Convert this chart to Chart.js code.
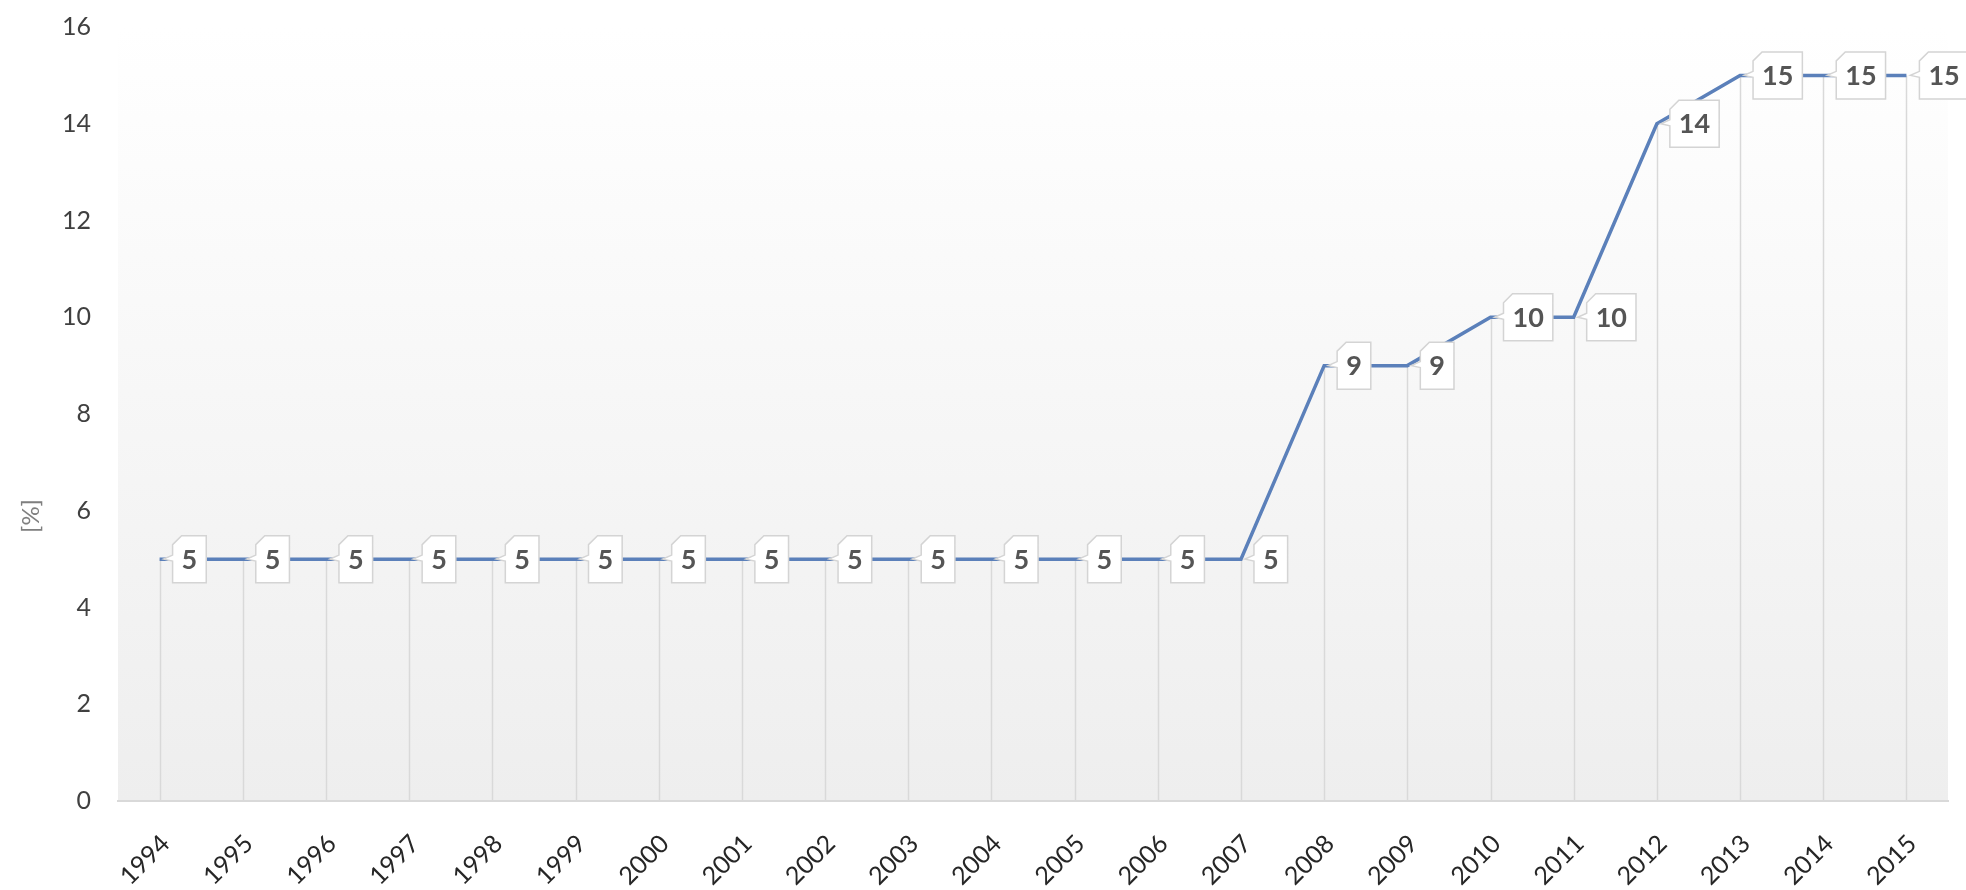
<!DOCTYPE html>
<html>
<head>
<meta charset="utf-8">
<script src="https://cdn.jsdelivr.net/npm/chart.js@4"></script>
<style>
  html, body { margin: 0; padding: 0; background: #fff; }
  #wrap { width: 1966px; height: 890px; }
</style>
</head>
<body>
<div id="wrap"><canvas id="myChart" width="1966" height="890"></canvas></div>
<script>
// data tahun dan persentase
const years = ['1994', '1995', '1996', '1997', '1998', '1999', '2000', '2001', '2002', '2003', '2004',
               '2005', '2006', '2007', '2008', '2009', '2010', '2011', '2012', '2013', '2014', '2015'];
const percent = [5, 5, 5, 5, 5, 5, 5, 5, 5, 5, 5, 5, 5, 5, 9, 9, 10, 10, 14, 15, 15, 15];
const yTicks = [0, 2, 4, 6, 8, 10, 12, 14, 16];
const yTitle = '[%]';

const FONT = 'Lato, "Open Sans", sans-serif';

// background gradient, garis drop dan label data
const bgPlugin = {
    id: 'bgPlugin',
    beforeDraw(chart) {
        const { ctx, chartArea: a } = chart;
        const g = ctx.createLinearGradient(0, a.top, 0, a.bottom);
        g.addColorStop(0, '#ffffff');
        g.addColorStop(1, '#eeeeee');
        ctx.save();
        ctx.fillStyle = g;
        ctx.fillRect(a.left, a.top, a.right - a.left, a.bottom - a.top);
        ctx.restore();
    },
    beforeDatasetsDraw(chart) {
        const { ctx, chartArea: a } = chart;
        const pts = chart.getDatasetMeta(0).data;
        ctx.save();
        ctx.strokeStyle = '#d9d9d9';
        ctx.lineWidth = 1.5;
        pts.forEach(p => {
            ctx.beginPath();
            ctx.moveTo(Math.round(p.x) + 0.5, p.y);
            ctx.lineTo(Math.round(p.x) + 0.5, a.bottom);
            ctx.stroke();
        });
        ctx.restore();
    },
    afterDatasetsDraw(chart) {
        const { ctx } = chart;
        const pts = chart.getDatasetMeta(0).data;
        ctx.save();
        ctx.font = 'bold 27px ' + FONT;
        pts.forEach((p, i) => {
            const txt = String(percent[i]);
            const w = ctx.measureText(txt).width + 18;
            const h = 47;
            const bx = p.x + 13;
            const by = p.y - h / 2;
            // bentuk callout
            ctx.beginPath();
            ctx.moveTo(bx + 9, by);
            ctx.lineTo(bx + w, by);
            ctx.lineTo(bx + w, by + h);
            ctx.lineTo(bx, by + h);
            ctx.lineTo(bx, p.y + 2);
            ctx.lineTo(p.x + 4, p.y);
            ctx.lineTo(bx, p.y - 4);
            ctx.lineTo(bx, by + 9);
            ctx.closePath();
            ctx.fillStyle = '#ffffff';
            ctx.fill();
            ctx.strokeStyle = '#d4d4d4';
            ctx.lineWidth = 1.5;
            ctx.stroke();
            ctx.fillStyle = '#555555';
            ctx.textAlign = 'center';
            ctx.textBaseline = 'middle';
            ctx.fillText(txt, bx + w / 2, p.y + 1);
        });
        // judul sumbu y
        ctx.translate(31, 516);
        ctx.rotate(-Math.PI / 2);
        ctx.font = '24px ' + FONT;
        ctx.fillStyle = '#7f7f7f';
        ctx.textAlign = 'center';
        ctx.textBaseline = 'middle';
        ctx.fillText(yTitle, 0, 0);
        ctx.restore();
    }
};

const ctx = document.getElementById('myChart').getContext('2d');
const myChart = new Chart(ctx, {
    type: 'line',
    data: {
        labels: years,
        datasets: [{
            label: yTitle,
            data: percent,
            borderColor: '#5b80ba',
            borderWidth: 3.5,
            pointRadius: 0,
            tension: 0,
            fill: false
        }]
    },
    options: {
        responsive: false,
        animation: false,
        layout: { padding: { left: 0, right: 18, top: 27, bottom: 0 }, autoPadding: false },
        plugins: {
            legend: { display: false },
            tooltip: { enabled: false }
        },
        scales: {
            x: {
                offset: true,
                grid: { display: false, drawTicks: false },
                border: { display: true, color: '#d9d9d9', width: 2 },
                ticks: {
                    autoSkip: false,
                    minRotation: 45,
                    maxRotation: 45,
                    padding: 28,
                    labelOffset: 6,
                    color: '#262626',
                    font: { family: FONT, size: 25 }
                },
                afterFit(scale) {
                    scale.height = 89;
                    scale.paddingLeft = 0;
                    scale.paddingRight = 0;
                }
            },
            y: {
                min: 0,
                max: 16,
                afterBuildTicks(scale) { scale.ticks = yTicks.map(v => ({ value: v })); },
                grid: { display: false, drawTicks: false },
                border: { display: false },
                ticks: {
                    padding: 27,
                    color: '#404040',
                    font: { family: FONT, size: 25 }
                },
                afterFit(scale) {
                    scale.width = 118;
                    scale.paddingTop = 0;
                    scale.paddingBottom = 0;
                }
            }
        }
    },
    plugins: [bgPlugin]
});
</script>
</body>
</html>
